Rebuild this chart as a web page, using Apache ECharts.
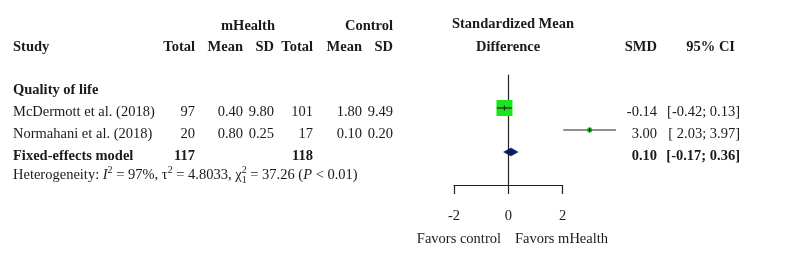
<!DOCTYPE html>
<html>
<head>
<meta charset="utf-8">
<script src="https://cdn.jsdelivr.net/npm/echarts@6/dist/echarts.min.js"></script>
<style>
  html, body { margin: 0; padding: 0; background: #fff; }
  #forest { width: 800px; height: 255px; }
</style>
</head>
<body>
<div id="forest"></div>
<script>
// study level data
var studies = ['McDermott et al. (2018)', 'Normahani et al. (2018)'];
var mhTotal = [97, 20];
var mhMean = [0.40, 0.80];
var mhSD = [9.80, 0.25];
var ctTotal = [101, 17];
var ctMean = [1.80, 0.10];
var ctSD = [9.49, 0.20];
var smd = [-0.14, 3.00];
var ciLow = [-0.42, 2.03];
var ciHigh = [0.13, 3.97];
var weight = [92.4, 7.6];

// pooled estimate: smd, lower, upper
var pooled = [0.10, -0.17, 0.36];
var pooledTotals = [117, 118];
var xTicks = [-2, 0, 2];

var FONT = '"Liberation Serif", "Times New Roman", serif';
var FS = 14.5;
var TXT = '#1a1a1a';
var LINE = '#222';

function f2(v) { return v.toFixed(2); }
function ci(lo, hi) {
	return '[' + (lo < 0 ? '' : ' ') + f2(lo) + '; ' + f2(hi) + ']';
}
function txt(x, y, s, align, bold) {
	return {
		type: 'text', x: x, y: y,
		style: {
			text: s, fill: TXT, align: align || 'left', verticalAlign: 'middle',
			font: (bold ? 'bold ' : '') + FS + 'px ' + FONT
		}
	};
}

// measure text so the heterogeneity line can be laid out piece by piece
var measureCtx = document.createElement('canvas').getContext('2d');
function textW(s, font) {
	measureCtx.font = font;
	return measureCtx.measureText(s).width;
}
function heteroLine(x, y) {
	var nf = FS + 'px ' + FONT;
	var itf = 'italic ' + FS + 'px ' + FONT;
	var sf = '10px ' + FONT;
	// [text, font, dy, advance?]
	var parts = [
		['Heterogeneity: ', nf, 0],
		['I', itf, 0],
		['2', sf, -5],
		[' = 97%, τ', nf, 0],
		['2', sf, -5],
		[' = 4.8033, χ', nf, 0],
		['2', sf, -5, false],
		['1', sf, 5],
		[' = 37.26 (', nf, 0],
		['P', itf, 0],
		[' < 0.01)', nf, 0]
	];
	var kids = [];
	parts.forEach(function(p) {
		kids.push({
			type: 'text', x: x, y: y + p[2],
			style: { text: p[0], fill: TXT, font: p[1], verticalAlign: 'middle' }
		});
		if (p[3] !== false) x += textW(p[0], p[1]);
	});
	return kids;
}

// right edges of the numeric columns
var colX = [195, 243, 274, 313, 362, 393];
var smdX = 657, ciX = 740;

// table rows: 0 group, 1..n studies, n+1 pooled, n+2 heterogeneity
var tableRows = [[0, 0]];
studies.forEach(function(s, i) { tableRows.push([0, i + 1]); });
tableRows.push([0, studies.length + 1]);
tableRows.push([0, studies.length + 2]);

var chart = echarts.init(document.getElementById('forest'));

var option = {
	backgroundColor: '#fff',
	animation: false,
	grid: { left: 454, width: 108.5, top: 75, height: 110 },
	xAxis: {
		type: 'value', min: -2, max: 2, interval: 2,
		axisLine: { show: true, onZero: false, lineStyle: { color: LINE, width: 1.2 } },
		axisTick: { show: true, length: 9, lineStyle: { color: LINE, width: 1.2 } },
		axisLabel: {
			margin: 24, color: TXT, fontFamily: FONT, fontSize: FS,
			customValues: xTicks
		},
		splitLine: { show: false }
	},
	yAxis: {
		type: 'value', min: -0.5, max: 4.5, inverse: true,
		axisLine: { show: true, onZero: true, lineStyle: { color: LINE, width: 1.2 } },
		axisTick: { show: false },
		axisLabel: { show: false },
		splitLine: { show: false }
	},
	graphic: [
		{ type: 'group', children: [
			txt(275, 26, 'mHealth', 'right', true),
			txt(393, 26, 'Control', 'right', true),
			txt(513, 24, 'Standardized Mean', 'center', true),
			txt(13, 47, 'Study', 'left', true),
			txt(colX[0], 47, 'Total', 'right', true),
			txt(colX[1], 47, 'Mean', 'right', true),
			txt(colX[2], 47, 'SD', 'right', true),
			txt(colX[3], 47, 'Total', 'right', true),
			txt(colX[4], 47, 'Mean', 'right', true),
			txt(colX[5], 47, 'SD', 'right', true),
			txt(508, 47, 'Difference', 'center', true),
			txt(smdX, 47, 'SMD', 'right', true),
			txt(735, 47, '95% CI', 'right', true),
			txt(501, 239, 'Favors control', 'right', false),
			txt(515, 239, 'Favors mHealth', 'left', false)
		] }
	],
	series: [
		{
			// text columns of the table
			type: 'custom',
			data: tableRows,
			silent: true,
			renderItem: function(params, api) {
				var row = api.value(1);
				var y = api.coord([0, row])[1] + 4;
				var n = studies.length;
				var kids = [];
				if (row === 0) {
					kids.push(txt(13, y, 'Quality of life', 'left', true));
				} else if (row <= n) {
					var i = row - 1;
					kids.push(txt(13, y, studies[i]));
					kids.push(txt(colX[0], y, String(mhTotal[i]), 'right'));
					kids.push(txt(colX[1], y, f2(mhMean[i]), 'right'));
					kids.push(txt(colX[2], y, f2(mhSD[i]), 'right'));
					kids.push(txt(colX[3], y, String(ctTotal[i]), 'right'));
					kids.push(txt(colX[4], y, f2(ctMean[i]), 'right'));
					kids.push(txt(colX[5], y, f2(ctSD[i]), 'right'));
					kids.push(txt(smdX, y, f2(smd[i]), 'right'));
					kids.push(txt(ciX, y, ci(ciLow[i], ciHigh[i]), 'right'));
				} else if (row === n + 1) {
					kids.push(txt(13, y, 'Fixed-effects model', 'left', true));
					kids.push(txt(colX[0], y, String(pooledTotals[0]), 'right', true));
					kids.push(txt(colX[3], y, String(pooledTotals[1]), 'right', true));
					kids.push(txt(smdX, y, f2(pooled[0]), 'right', true));
					kids.push(txt(ciX, y, ci(pooled[1], pooled[2]), 'right', true));
				} else {
					kids = heteroLine(13, y - 3);
				}
				return { type: 'group', children: kids };
			}
		},
		{
			// study estimates: square sized by weight, CI line
			type: 'custom',
			clip: false,
			data: smd.map(function(v, i) { return [v, i + 1, ciLow[i], ciHigh[i], weight[i]]; }),
			renderItem: function(params, api) {
				var c = api.coord([api.value(0), api.value(1)]);
				var lo = api.coord([api.value(2), api.value(1)]);
				var hi = api.coord([api.value(3), api.value(1)]);
				var side = 16 * Math.sqrt(api.value(4) / Math.max.apply(null, weight));
				return {
					type: 'group',
					children: [
						{ type: 'rect', shape: { x: c[0] - side / 2, y: c[1] - side / 2, width: side, height: side },
							style: { fill: '#19e619' } },
						{ type: 'line', shape: { x1: lo[0], y1: lo[1], x2: hi[0], y2: hi[1] },
							style: { stroke: LINE, lineWidth: 1.2 } },
						{ type: 'line', shape: { x1: c[0], y1: c[1] - 2.5, x2: c[0], y2: c[1] + 2.5 },
							style: { stroke: LINE, lineWidth: 1.2 } }
					]
				};
			}
		},
		{
			// pooled diamond
			type: 'custom',
			clip: false,
			data: [[pooled[0], studies.length + 1, pooled[1], pooled[2]]],
			renderItem: function(params, api) {
				var r = api.value(1);
				var top = api.coord([api.value(0), r - 0.18]);
				var bot = api.coord([api.value(0), r + 0.18]);
				var lo = api.coord([api.value(2), r]);
				var hi = api.coord([api.value(3), r]);
				return {
					type: 'polygon',
					shape: { points: [lo, top, hi, bot] },
					style: { fill: '#0b1a66', stroke: '#0b1a66', lineWidth: 0.5 }
				};
			}
		}
	]
};

chart.setOption(option);
window.addEventListener('resize', function() {
	chart.resize();
});
</script>
</body>
</html>
